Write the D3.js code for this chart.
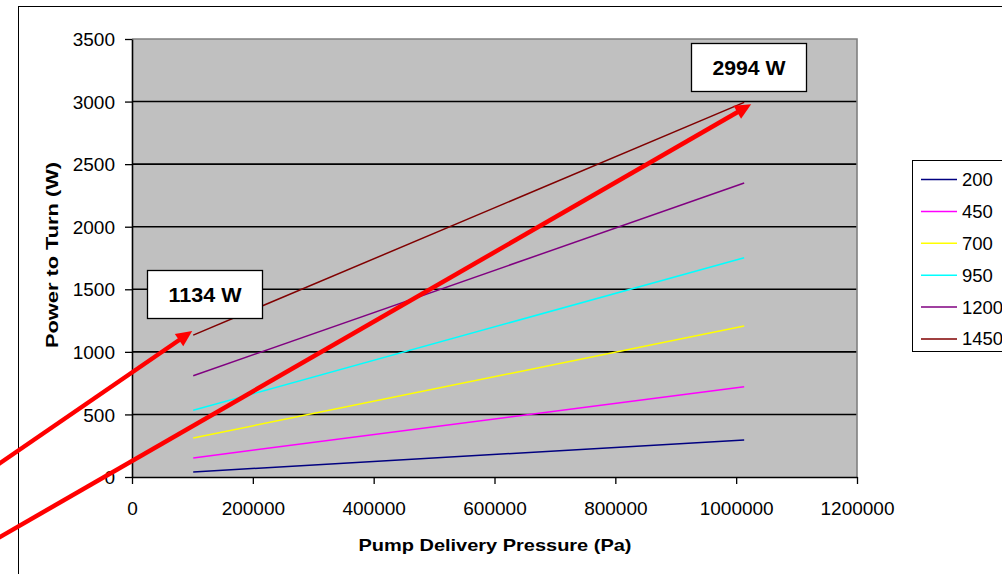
<!DOCTYPE html>
<html>
<head>
<meta charset="utf-8">
<script src="https://cdn.jsdelivr.net/npm/d3@7"></script>
<style>
  html, body { margin: 0; padding: 0; background: #fff; }
  svg { display: block; font-family: "Liberation Sans", Arial, sans-serif; }
</style>
</head>
<body>
<svg id="chart" width="1002" height="574"></svg>
<script>
// Pump delivery pressure (Pa): 1 atm to 10 atm
const pressures = [101325, 1013250];

// Power to turn (W) for each pump speed
const speeds = ["200", "450", "700", "950", "1200", "1450"];
const power200  = [40, 296];
const power450  = [152, 722];
const power700  = [312, 1207];
const power950  = [533, 1752];
const power1200 = [809, 2349];
const power1450 = [1134, 2994];
const seriesValues = [power200, power450, power700, power950, power1200, power1450];
const seriesColors = ["#000080", "#FF00FF", "#FFFF00", "#00FFFF", "#800080", "#800000"];

const xTicks = [0, 200000, 400000, 600000, 800000, 1000000, 1200000];
const yTicks = [0, 500, 1000, 1500, 2000, 2500, 3000, 3500];

const svg = d3.select("#chart");

const x = d3.scaleLinear().domain([0, 1200000]).range([132, 857]);
const y = d3.scaleLinear().domain([0, 3500]).range([477, 39]);

// outer chart frame
svg.append("rect")
  .attr("x", 18.5).attr("y", 6.5)
  .attr("width", 1200).attr("height", 800)
  .attr("fill", "#fff").attr("stroke", "#000").attr("stroke-width", 1);

// plot area
svg.append("rect")
  .attr("x", x(0)).attr("y", y(3500))
  .attr("width", x(1200000) - x(0)).attr("height", y(0) - y(3500))
  .attr("fill", "#C0C0C0");

// horizontal gridlines
svg.append("g").selectAll("line")
  .data(yTicks.filter(v => v > 0 && v < 3500))
  .join("line")
  .attr("x1", x(0)).attr("x2", x(1200000))
  .attr("y1", d => y(d)).attr("y2", d => y(d))
  .attr("stroke", "#000").attr("stroke-width", 1.6);

// plot area border (top and right)
svg.append("path")
  .attr("d", `M${x(0)},${y(3500)}H${x(1200000)}V${y(0)}`)
  .attr("fill", "none").attr("stroke", "#808080").attr("stroke-width", 1.6);

// axes
const xAxis = svg.append("g")
  .attr("transform", `translate(0,${y(0)})`)
  .call(d3.axisBottom(x).tickValues(xTicks).tickSize(7).tickSizeOuter(0).tickFormat(d3.format("d")));
const yAxis = svg.append("g")
  .attr("transform", `translate(${x(0)},0)`)
  .call(d3.axisLeft(y).tickValues(yTicks).tickSize(7).tickSizeOuter(0).tickPadding(10).tickFormat(d3.format("d")));

[xAxis, yAxis].forEach(g => {
  g.select(".domain").attr("stroke", "#000").attr("stroke-width", 1.6);
  g.selectAll(".tick line").attr("stroke", "#000").attr("stroke-width", 1.3);
  g.selectAll(".tick text")
    .attr("fill", "#000")
    .style("font-size", "19px")
    .style("font-family", "'Liberation Sans', Arial, sans-serif");
});
xAxis.selectAll(".tick text").attr("y", 31).attr("dy", "0.35em");
yAxis.selectAll(".tick text").attr("dy", "0.35em");

// series lines
const line = d3.line()
  .x((d, i) => x(pressures[i]))
  .y(d => y(d));

svg.append("g").selectAll("path")
  .data(seriesValues)
  .join("path")
  .attr("d", d => line(d))
  .attr("fill", "none")
  .attr("stroke", (d, i) => seriesColors[i])
  .attr("stroke-width", 1.5);

// axis titles
svg.append("text")
  .attr("x", (x(0) + x(1200000)) / 2 + 0.5).attr("y", 545)
  .attr("text-anchor", "middle").attr("dy", "0.35em")
  .attr("font-weight", "bold").attr("font-size", 17)
  .attr("textLength", 273).attr("lengthAdjust", "spacingAndGlyphs")
  .text("Pump Delivery Pressure (Pa)");

svg.append("text")
  .attr("transform", `translate(52,${(y(0) + y(3500)) / 2 - 3}) rotate(-90)`)
  .attr("text-anchor", "middle").attr("dy", "0.35em")
  .attr("font-weight", "bold").attr("font-size", 17)
  .attr("textLength", 186).attr("lengthAdjust", "spacingAndGlyphs")
  .text("Power to Turn (W)");

// legend
const legend = svg.append("g");
legend.append("rect")
  .attr("x", 912.5).attr("y", 160.5)
  .attr("width", 200).attr("height", 191)
  .attr("fill", "#fff").attr("stroke", "#000").attr("stroke-width", 1);
const items = legend.selectAll("g.item")
  .data(speeds)
  .join("g")
  .attr("class", "item")
  .attr("transform", (d, i) => `translate(0,${179.5 + i * 31.9})`);
items.append("line")
  .attr("x1", 921).attr("x2", 957)
  .attr("stroke", (d, i) => seriesColors[i])
  .attr("stroke-width", 1.5);
items.append("text")
  .attr("x", 962).attr("dy", "0.35em")
  .attr("font-size", 18.5)
  .text(d => d);

// callouts: red arrows pointing at the first and last points of the 1450 series
const callouts = [
  { series: 5, index: 0, tipDx: -1, tipDy: -4, slope: -0.687, box: [147, 270] },
  { series: 5, index: 1, tipDx: 7, tipDy: 2, slope: -0.576, box: [691, 43] }
];

const notes = svg.append("g");
callouts.forEach(c => {
  const value = seriesValues[c.series][c.index];
  const tx = x(pressures[c.index]) + c.tipDx;
  const ty = y(value) + c.tipDy;
  // tail runs off the left edge along the arrow's slope
  const sx = -10, sy = ty - c.slope * (tx - sx);
  const len = Math.hypot(tx - sx, ty - sy);
  const ux = (tx - sx) / len, uy = (ty - sy) / len;
  const headLen = 16, headHalf = 7.5;
  const bx = tx - ux * headLen, by = ty - uy * headLen;

  notes.append("line")
    .attr("x1", sx).attr("y1", sy)
    .attr("x2", bx + ux * 2).attr("y2", by + uy * 2)
    .attr("stroke", "#FF0000").attr("stroke-width", 4.5);
  notes.append("path")
    .attr("d", `M${tx},${ty}L${bx - uy * headHalf},${by + ux * headHalf}L${bx + uy * headHalf},${by - ux * headHalf}Z`)
    .attr("fill", "#FF0000");

  const [bx0, by0] = c.box;
  notes.append("rect")
    .attr("x", bx0 + 0.5).attr("y", by0 + 0.5)
    .attr("width", 115).attr("height", 48)
    .attr("fill", "#fff").attr("stroke", "#000").attr("stroke-width", 1.3);
  notes.append("text")
    .attr("x", bx0 + 58).attr("y", by0 + 24.5)
    .attr("text-anchor", "middle").attr("dy", "0.35em")
    .attr("font-weight", "bold").attr("font-size", 21)
    .attr("textLength", 73).attr("lengthAdjust", "spacingAndGlyphs")
    .text(`${d3.format("d")(value)} W`);
});
</script>
</body>
</html>
